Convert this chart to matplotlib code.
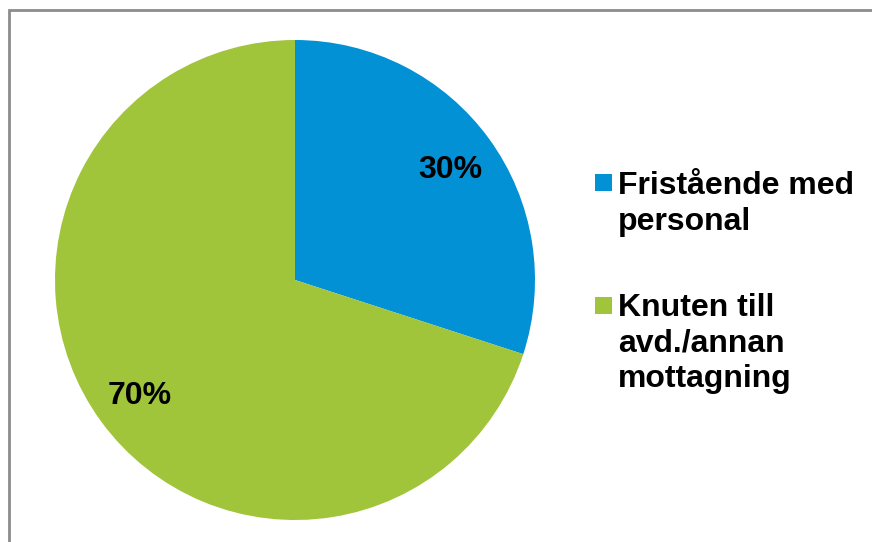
import matplotlib.pyplot as plt
from matplotlib.patches import Rectangle

labels = ['Fristående med\npersonal', 'Knuten till\navd./annan\nmottagning']
values = [30, 70]
colors = ['#0391D5', '#A0C43A']

plt.rcParams['font.family'] = ['Liberation Sans', 'DejaVu Sans']

W, H = 872, 542
fig = plt.figure(figsize=(W / 100, H / 100), dpi=100)

# outer frame (only top and left edges visible)
fig.patches.append(Rectangle((9 / W, -0.1), 1.2, 1 - 10 / H + 0.1,
                             transform=fig.transFigure, fill=False,
                             edgecolor='#8c8c8c', linewidth=2))

ax = fig.add_axes([55 / W, 1 - 520 / H, 480 / W, 480 / H])
wedges, texts, autotexts = ax.pie(values, colors=colors, startangle=90,
                                  counterclock=False, autopct='%d%%',
                                  pctdistance=0.8, radius=1,
                                  textprops=dict(fontsize=23, fontweight='bold', color='black'))
for t in autotexts:
    x, y = t.get_position()
    t.set_position((x, y - 0.012))
ax.set_xlim(-1, 1)
ax.set_ylim(-1, 1)
ax.set_aspect('equal')

# legend
text_tops = [171, 293]
box_tops = [174, 297]
for lab, col, top, btop in zip(labels, colors, text_tops, box_tops):
    fig.patches.append(Rectangle((595 / W, 1 - (btop + 17) / H), 17 / W, 17 / H,
                                 transform=fig.transFigure, facecolor=col,
                                 edgecolor='none'))
    fig.text(618 / W, 1 - top / H, lab, fontsize=23, fontweight='bold',
             va='top', ha='left', linespacing=1.25)

fig.savefig('out.png', dpi=100)
